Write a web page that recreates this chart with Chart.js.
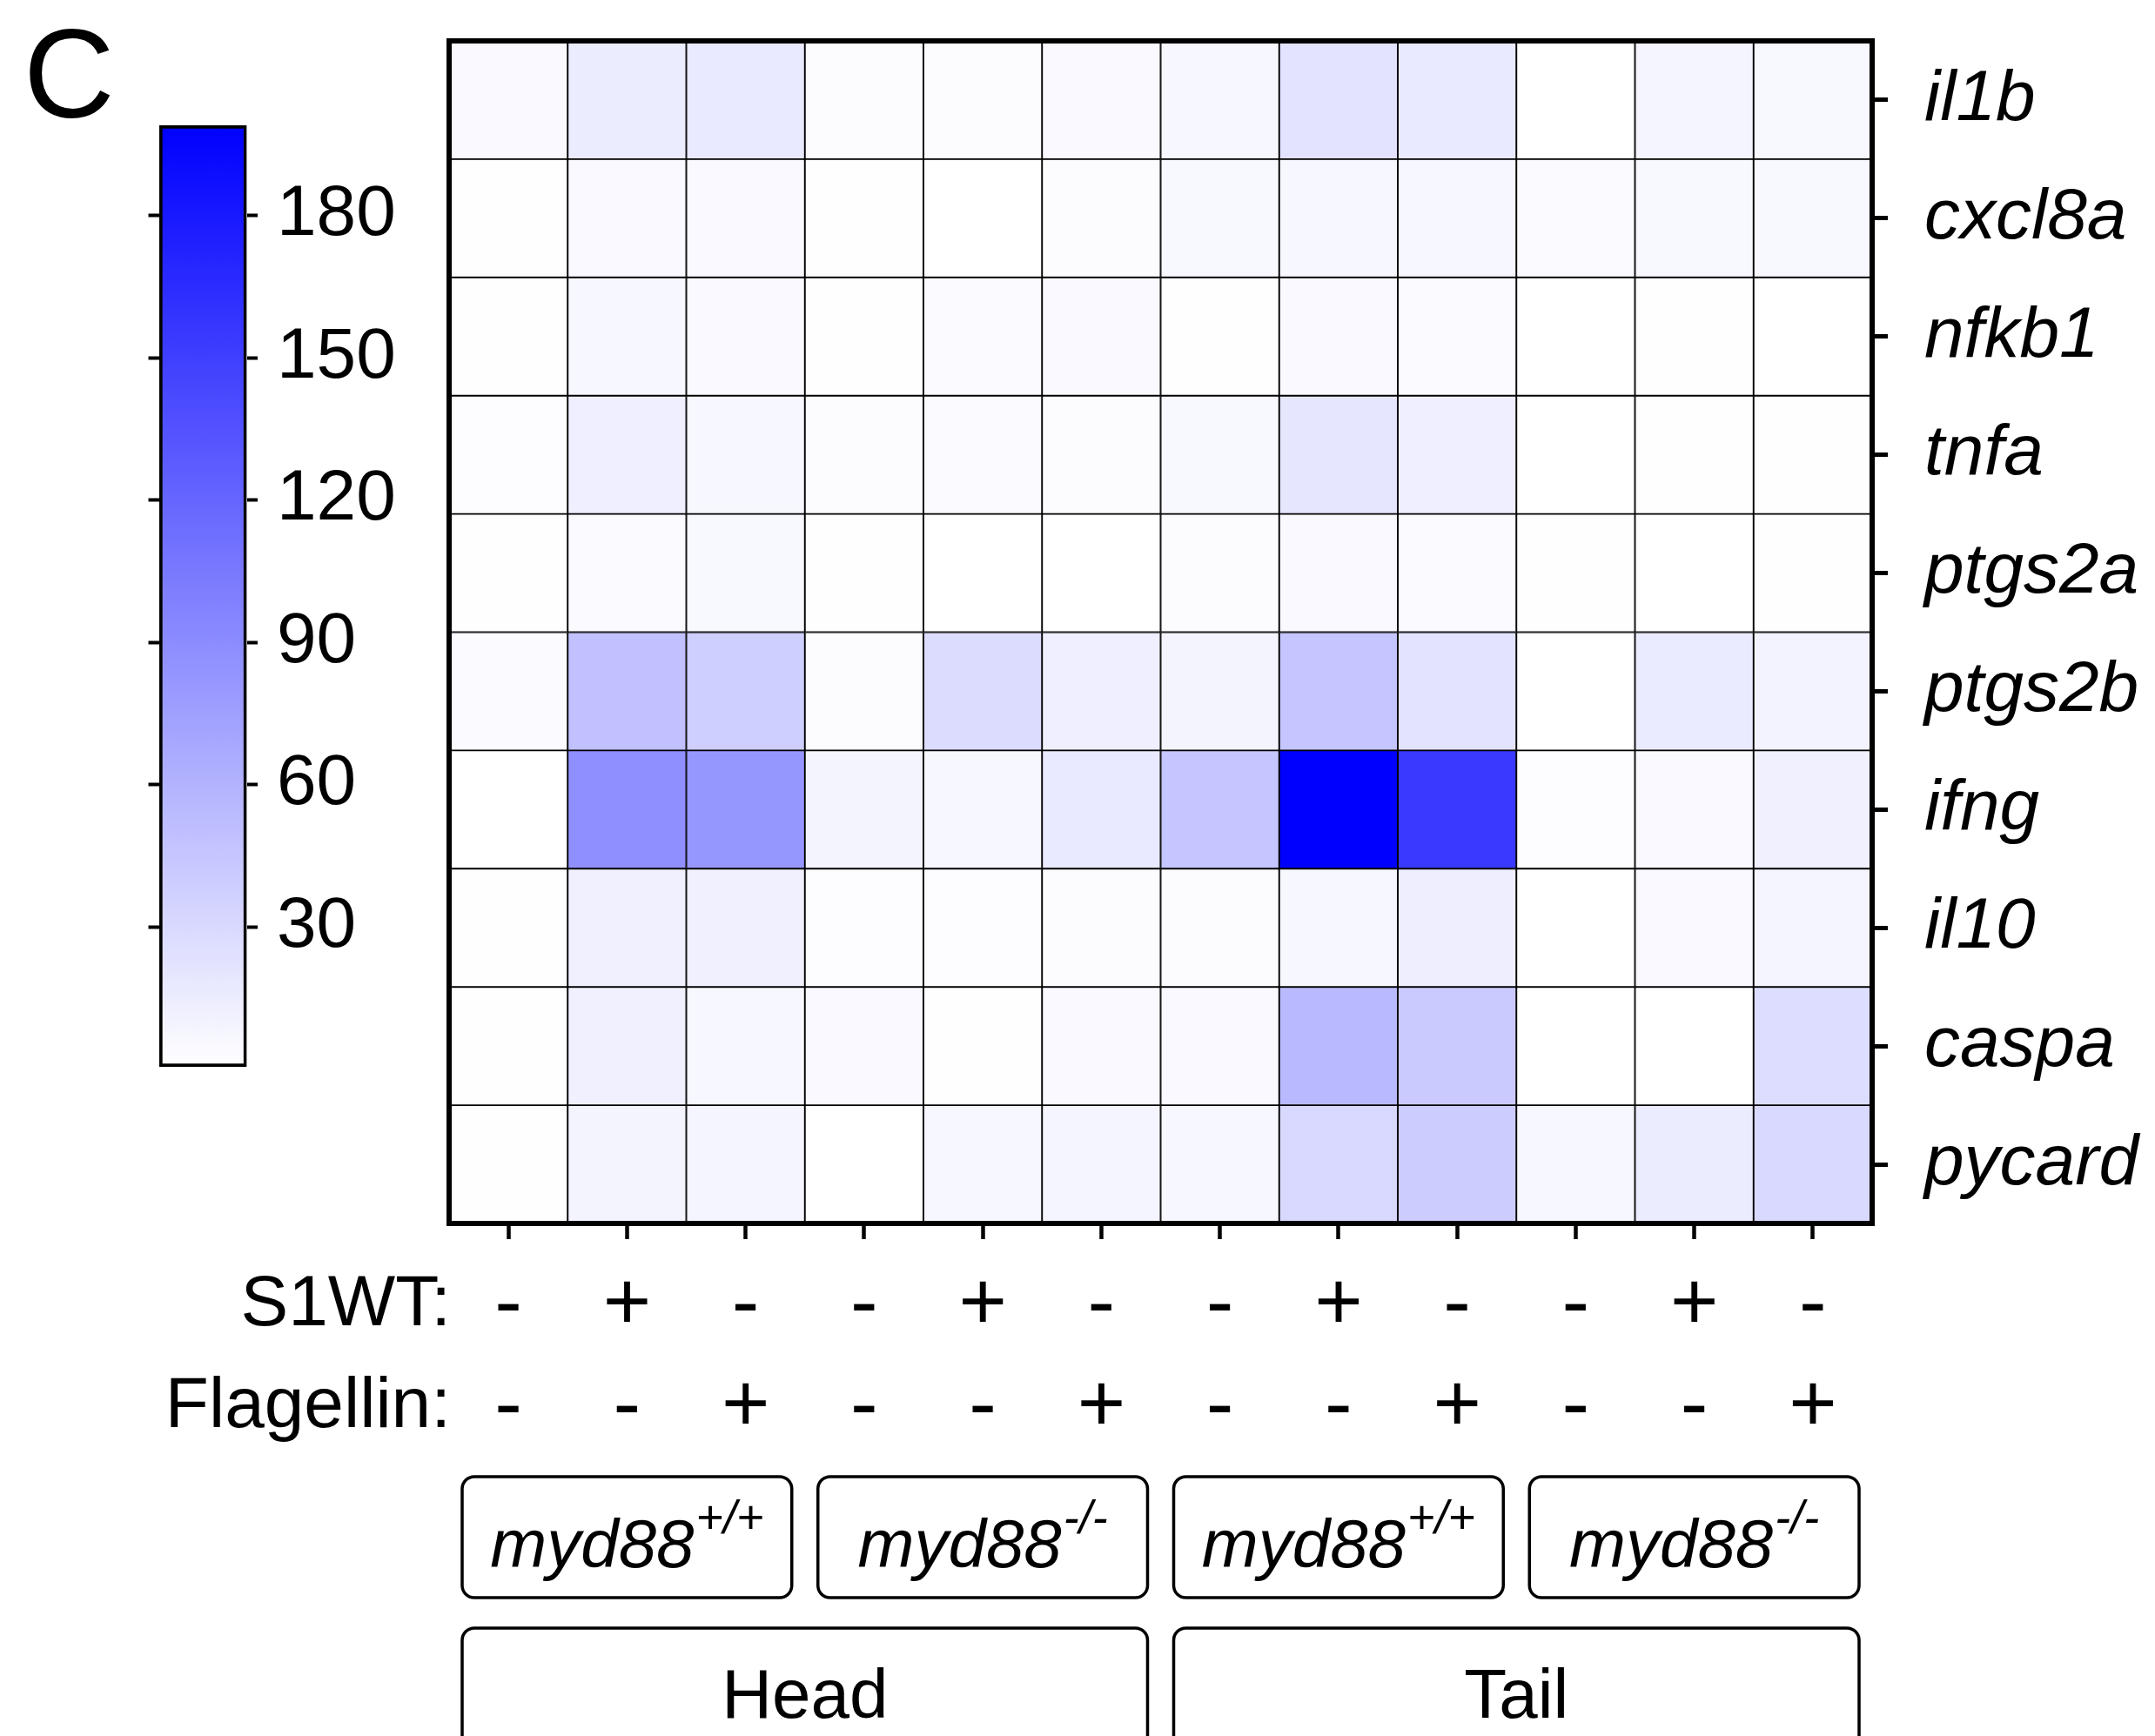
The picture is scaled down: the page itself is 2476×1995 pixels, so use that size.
<!DOCTYPE html>
<html>
<head>
<meta charset="utf-8">
<script src="https://cdn.jsdelivr.net/npm/chart.js@4.4.1/dist/chart.umd.min.js"></script>
<style>
html,body{margin:0;padding:0;background:#fff;}
#wrap{position:relative;width:2476px;height:1995px;overflow:hidden;background:#fff;}
#main{position:absolute;left:0;top:0;width:2476px;height:1995px;}
#cb{position:absolute;left:0;top:0;width:520px;height:1300px;}
</style>
</head>
<body>
<div id="wrap">
<canvas id="main" width="2476" height="1995"></canvas>
<canvas id="cb" width="520" height="1300"></canvas>
</div>
<script>
// ---------- data ----------
const genes = ['il1b', 'cxcl8a', 'nfkb1', 'tnfa', 'ptgs2a', 'ptgs2b', 'ifng', 'il10', 'caspa', 'pycard'];
const s1wt      = ['-', '+', '-', '-', '+', '-', '-', '+', '-', '-', '+', '-'];
const flagellin = ['-', '-', '+', '-', '-', '+', '-', '-', '+', '-', '-', '+'];
const genotypeName = 'myd88';
const genotypeSup  = ['+/+', '-/-', '+/+', '-/-'];
const tissues      = ['Head', 'Tail'];

const il1b   = [5, 15, 18, 3, 3, 5, 7, 22, 18, 0, 8, 6];
const cxcl8a = [1, 5, 5, 1, 0, 3, 6, 7, 7, 4, 6, 6];
const nfkb1  = [1, 7, 5, 1, 4, 5, 1, 5, 4, 0.5, 1, 0.5];
const tnfa   = [2, 13, 7, 3, 4, 3, 6, 20, 13, 0, 1, 1];
const ptgs2a = [1, 4, 6, 1, 0.5, 0.5, 3, 5, 4, 1, 0.5, 1];
const ptgs2b = [4, 49, 39, 3, 28, 13, 9, 46, 22, 0, 16, 10];
const ifng   = [0.5, 88, 82, 9, 7, 18, 46, 199, 155, 2, 5, 12];
const il10   = [1, 12, 12, 2, 2, 3, 3, 7, 14, 0, 5, 8];
const caspa  = [1, 12, 7, 5, 1, 5, 5, 55, 42, 0, 0.5, 27];
const pycard = [1, 9, 8, 0.5, 7, 8, 7, 30, 40, 7, 15, 30];

const cbMin = 0.5;
const cbMax = 199;
const cbTicks = [30, 60, 90, 120, 150, 180];

const rows = [il1b, cxcl8a, nfkb1, tnfa, ptgs2a, ptgs2b, ifng, il10, caspa, pycard];

// ---------- style ----------
const FONT = '"Liberation Sans", Arial, Helvetica, sans-serif';

function colorFor(v) {
  let t = (v - cbMin) / (cbMax - cbMin);
  t = Math.max(0, Math.min(1, t));
  const c = Math.round(255 * (1 - t));
  return `rgb(${c},${c},255)`;
}

function roundRectPath(ctx, x, y, w, h, r) {
  ctx.beginPath();
  ctx.moveTo(x + r, y);
  ctx.lineTo(x + w - r, y);
  ctx.arcTo(x + w, y, x + w, y + r, r);
  ctx.lineTo(x + w, y + h - r);
  ctx.arcTo(x + w, y + h, x + w - r, y + h, r);
  ctx.lineTo(x + r, y + h);
  ctx.arcTo(x, y + h, x, y + h - r, r);
  ctx.lineTo(x, y + r);
  ctx.arcTo(x, y, x + r, y, r);
  ctx.closePath();
}

const TICK_LEN = 18;
const X_PAD = 18;
const X_FONT = 95;
const X_LH = 117;

const annotations = {
  id: 'annotations',
  afterDraw(chart) {
    const ctx = chart.ctx;
    const area = chart.chartArea;
    const xs = chart.scales.x;
    ctx.save();
    // outer frame
    ctx.strokeStyle = '#000';
    ctx.lineWidth = 6;
    ctx.strokeRect(area.left, area.top, area.right - area.left, area.bottom - area.top);

    // panel letter
    ctx.fillStyle = '#000';
    ctx.font = `145px ${FONT}`;
    ctx.textAlign = 'left';
    ctx.textBaseline = 'alphabetic';
    ctx.fillText('C', 27, 135);

    // row titles
    const y1 = area.bottom + TICK_LEN + X_PAD + X_LH / 2;
    ctx.font = `82px ${FONT}`;
    ctx.textAlign = 'right';
    ctx.textBaseline = 'middle';
    ctx.fillText('S1WT:', area.left + 2, y1);
    ctx.fillText('Flagellin:', area.left + 2, y1 + X_LH);

    // group boxes
    const cw = xs.getPixelForValue(1) - xs.getPixelForValue(0);
    const edge = (j) => xs.getPixelForValue(j) - cw / 2;
    const inset = 15;
    ctx.lineWidth = 3.5;
    const gTop = area.bottom + 291, gH = 139;
    genotypeSup.forEach((sup, g) => {
      const l = edge(g * 3) + inset, r = edge(g * 3 + 3) - inset;
      roundRectPath(ctx, l, gTop, r - l, gH, 14);
      ctx.stroke();
      const cx = (l + r) / 2;
      const base = area.bottom + 395;
      ctx.font = `italic 78px ${FONT}`;
      const w1 = ctx.measureText(genotypeName).width;
      ctx.font = `italic 54px ${FONT}`;
      const w2 = ctx.measureText(sup).width;
      const x0 = cx - (w1 + w2 + 2) / 2;
      ctx.textAlign = 'left';
      ctx.textBaseline = 'alphabetic';
      ctx.font = `italic 78px ${FONT}`;
      ctx.fillText(genotypeName, x0, base);
      ctx.font = `italic 54px ${FONT}`;
      ctx.fillText(sup, x0 + w1 + 2, base - 39);
    });
    const tTop = area.bottom + 465;
    tissues.forEach((name, t) => {
      const l = edge(t * 6) + inset, r = edge(t * 6 + 6) - inset;
      roundRectPath(ctx, l, tTop, r - l, 220, 14);
      ctx.stroke();
      ctx.font = `80px ${FONT}`;
      ctx.textAlign = 'center';
      ctx.textBaseline = 'alphabetic';
      ctx.fillText(name, (l + r) / 2, area.bottom + 568);
    });
    ctx.restore();
  }
};

function noPad(s) {
  s.paddingTop = 0; s.paddingBottom = 0; s.paddingLeft = 0; s.paddingRight = 0;
}

new Chart(document.getElementById('main'), {
  type: 'bar',
  data: {
    labels: s1wt.map((s, i) => [s, flagellin[i]]),
    datasets: rows.map((vals, r) => ({
      label: genes[r],
      data: vals.map(() => [r, r + 1]),
      backgroundColor: vals.map(colorFor),
      borderColor: '#000',
      borderWidth: 1.3,
      borderSkipped: false,
      grouped: false,
      categoryPercentage: 1,
      barPercentage: 1
    }))
  },
  options: {
    responsive: false,
    animation: false,
    devicePixelRatio: 1,
    layout: { padding: { left: 516, top: 47, right: 0, bottom: 0 } },
    plugins: { legend: { display: false }, tooltip: { enabled: false } },
    scales: {
      x: {
        type: 'category',
        offset: true,
        afterFit: (s) => { s.height = 1995 - 1406; noPad(s); },
        grid: { offset: false, drawOnChartArea: false, drawTicks: true, tickLength: TICK_LEN, tickWidth: 4.5, tickColor: '#000' },
        border: { display: false },
        ticks: {
          autoSkip: false, maxRotation: 0, minRotation: 0,
          color: '#000', padding: X_PAD,
          font: { family: FONT, size: X_FONT, lineHeight: X_LH / X_FONT }
        }
      },
      y: {
        type: 'linear',
        position: 'right',
        min: 0, max: genes.length,
        reverse: true,
        afterBuildTicks: (s) => { s.ticks = genes.map((g, i) => ({ value: i + 0.5 })); },
        afterFit: (s) => { s.width = 2476 - 2151; noPad(s); },
        grid: { drawOnChartArea: false, drawTicks: true, tickLength: TICK_LEN, tickWidth: 5, tickColor: '#000' },
        border: { display: false },
        ticks: {
          color: '#000', padding: 42,
          font: { family: FONT, size: 82, style: 'italic' },
          callback: (v, i) => genes[i]
        }
      }
    }
  },
  plugins: [annotations]
});

// ---------- colour bar ----------
new Chart(document.getElementById('cb'), {
  type: 'bar',
  data: {
    labels: [''],
    datasets: [{
      data: [[cbMin, cbMax]],
      backgroundColor: (c) => {
        const chart = c.chart;
        const ys = chart.scales.y;
        if (!chart.chartArea || !ys) return colorFor(cbMax);
        const g = chart.ctx.createLinearGradient(0, ys.getPixelForValue(cbMin), 0, ys.getPixelForValue(cbMax));
        g.addColorStop(0, colorFor(cbMin));
        g.addColorStop(1, colorFor(cbMax));
        return g;
      },
      borderColor: '#000',
      borderWidth: 4,
      borderSkipped: false,
      categoryPercentage: 1,
      barPercentage: 1
    }]
  },
  options: {
    responsive: false,
    animation: false,
    devicePixelRatio: 1,
    layout: { padding: { left: 170.5, top: 144, right: 0, bottom: 74 } },
    plugins: { legend: { display: false }, tooltip: { enabled: false } },
    scales: {
      x: { display: false, offset: true },
      y: {
        position: 'right', min: cbMin, max: cbMax,
        afterBuildTicks: (s) => { s.ticks = cbTicks.map(v => ({ value: v })); },
        afterFit: (s) => { s.width = 520 - 283.5; noPad(s); },
        grid: { drawOnChartArea: false, drawTicks: true, tickLength: 12.5, tickWidth: 4, tickColor: '#000' },
        border: { display: false },
        ticks: { color: '#000', padding: 22, font: { family: FONT, size: 82 } }
      },
      yl: {
        position: 'left', min: cbMin, max: cbMax,
        afterBuildTicks: (s) => { s.ticks = cbTicks.map(v => ({ value: v })); },
        afterFit: (s) => { s.width = 12.5; noPad(s); },
        grid: { drawOnChartArea: false, drawTicks: true, tickLength: 12.5, tickWidth: 4, tickColor: '#000' },
        border: { display: false },
        ticks: { display: false }
      }
    }
  }
});
</script>
</body>
</html>
